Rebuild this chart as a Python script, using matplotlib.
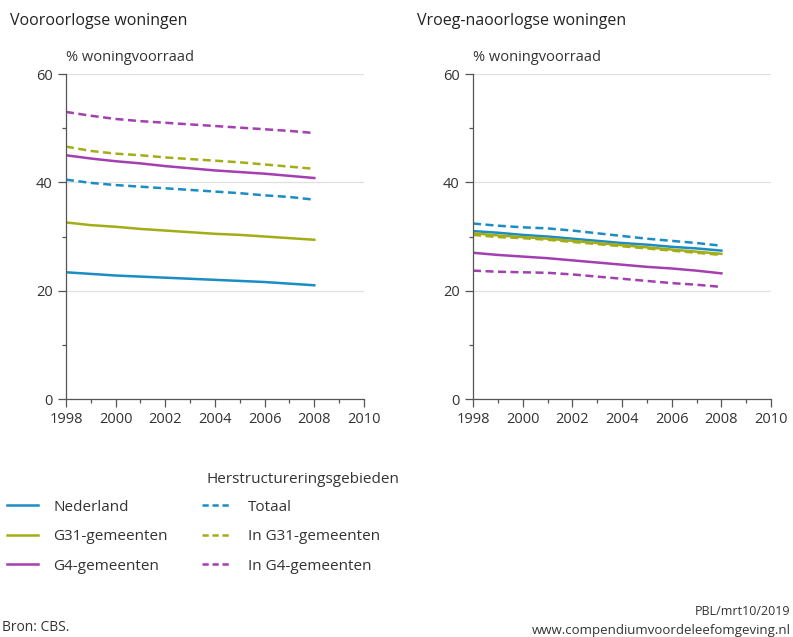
import matplotlib.pyplot as plt
from matplotlib.lines import Line2D
from matplotlib.ticker import MultipleLocator

plt.rcParams['font.family'] = ['Open Sans', 'DejaVu Sans']

years = list(range(1998, 2009))

# Vooroorlogse woningen (% woningvoorraad)
pre_nederland = [23.4, 23.1, 22.8, 22.6, 22.4, 22.2, 22.0, 21.8, 21.6, 21.3, 21.0]
pre_g31 = [32.6, 32.1, 31.8, 31.4, 31.1, 30.8, 30.5, 30.3, 30.0, 29.7, 29.4]
pre_g4 = [45.0, 44.4, 43.9, 43.5, 43.0, 42.6, 42.2, 41.9, 41.6, 41.2, 40.8]
pre_totaal = [40.5, 39.9, 39.5, 39.2, 38.9, 38.6, 38.3, 38.0, 37.6, 37.3, 36.8]
pre_in_g31 = [46.6, 45.8, 45.3, 45.0, 44.6, 44.3, 44.0, 43.7, 43.3, 42.9, 42.5]
pre_in_g4 = [53.0, 52.3, 51.7, 51.3, 51.0, 50.7, 50.4, 50.1, 49.8, 49.5, 49.1]

# Vroeg-naoorlogse woningen (% woningvoorraad)
post_nederland = [31.0, 30.7, 30.3, 30.0, 29.6, 29.2, 28.8, 28.5, 28.1, 27.8, 27.4]
post_g31 = [30.6, 30.2, 29.9, 29.6, 29.2, 28.8, 28.4, 28.0, 27.6, 27.2, 26.8]
post_g4 = [27.0, 26.6, 26.3, 26.0, 25.6, 25.2, 24.8, 24.4, 24.1, 23.7, 23.2]
post_totaal = [32.4, 32.0, 31.7, 31.5, 31.1, 30.6, 30.1, 29.6, 29.2, 28.8, 28.3]
post_in_g31 = [30.3, 29.9, 29.7, 29.4, 29.0, 28.6, 28.2, 27.8, 27.4, 27.0, 26.6]
post_in_g4 = [23.7, 23.5, 23.4, 23.3, 23.0, 22.6, 22.2, 21.8, 21.4, 21.1, 20.7]

titles = ["Vooroorlogse woningen", "Vroeg-naoorlogse woningen"]
solid_labels = ["Nederland", "G31-gemeenten", "G4-gemeenten"]
dashed_labels = ["Totaal", "In G31-gemeenten", "In G4-gemeenten"]

blue = "#1b8cc4"
green = "#a3ad17"
purple = "#a33fb0"
colors = [blue, green, purple]

panels = [
    ([pre_nederland, pre_g31, pre_g4], [pre_totaal, pre_in_g31, pre_in_g4]),
    ([post_nederland, post_g31, post_g4], [post_totaal, post_in_g31, post_in_g4]),
]

fig = plt.figure(figsize=(7.93, 6.37), dpi=100)
axes_pos = [[0.0832, 0.3736, 0.3758, 0.5102], [0.5965, 0.3736, 0.3758, 0.5102]]

for pos, title, (solids, dashes) in zip(axes_pos, titles, panels):
    ax = fig.add_axes(pos)
    for vals, c in zip(dashes, colors):
        ax.plot(years, vals, color=c, lw=1.8, ls=(0, (3.2, 1.8)))
    for vals, c in zip(solids, colors):
        ax.plot(years, vals, color=c, lw=1.8)
    ax.set_xlim(1998, 2010)
    ax.set_ylim(0, 60)
    ax.xaxis.set_major_locator(MultipleLocator(2))
    ax.xaxis.set_minor_locator(MultipleLocator(1))
    ax.yaxis.set_major_locator(MultipleLocator(20))
    ax.yaxis.set_minor_locator(MultipleLocator(10))
    ax.grid(axis="y", which="major", color="#e0e0e0", lw=0.9)
    ax.set_axisbelow(True)
    for s in ["top", "right"]:
        ax.spines[s].set_visible(False)
    for s in ["left", "bottom"]:
        ax.spines[s].set_color("#555555")
        ax.spines[s].set_linewidth(0.9)
    ax.tick_params(which="major", length=6, color="#555555", labelsize=10.5,
                   labelcolor="#333333", width=0.9)
    ax.tick_params(which="minor", length=3, color="#555555", width=0.9)
    fig.text(pos[0], 0.898, "% woningvoorraad", fontsize=10.5,
             color="#333333", ha="left", va="bottom")
    fig.text(pos[0] - 0.071, 0.955, title, fontsize=11.5, color="#222222",
             ha="left", va="bottom")

solid_handles = [Line2D([], [], color=c, lw=1.8) for c in colors]
dashed_handles = [Line2D([], [], color=c, lw=1.8, ls=(0, (2.5, 1.5))) for c in colors]

leg_kw = dict(frameon=False, fontsize=11, handlelength=2.0, handletextpad=1.0,
              labelspacing=0.95, labelcolor="#333333")
fig.legend(solid_handles, solid_labels, loc="upper left",
           bbox_to_anchor=(-0.008, 0.237), **leg_kw)
fig.legend(dashed_handles, dashed_labels, loc="upper left",
           bbox_to_anchor=(0.237, 0.237), **leg_kw)
fig.text(0.261, 0.236, "Herstructureringsgebieden", fontsize=11,
         color="#333333", ha="left", va="bottom")

fig.text(0.003, 0.003, "Bron: CBS.", fontsize=10, color="#333333",
         ha="left", va="bottom")
fig.text(0.997, 0.03, "PBL/mrt10/2019", fontsize=9, color="#333333",
         ha="right", va="bottom")
fig.text(0.997, 0.0, "www.compendiumvoordeleefomgeving.nl", fontsize=9.5,
         color="#333333", ha="right", va="bottom")

fig.savefig("out.png", dpi=100)
